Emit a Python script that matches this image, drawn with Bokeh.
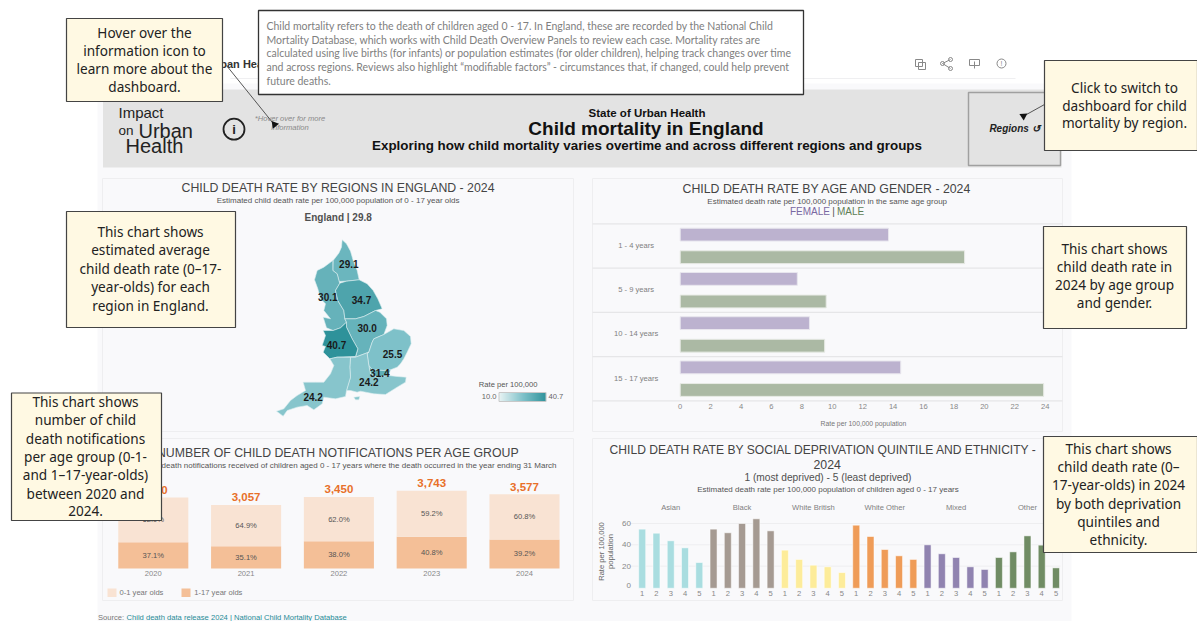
from bokeh.plotting import figure
from bokeh.models import Range1d, LinearAxis, FixedTicker, ColumnDataSource
from bokeh.core.properties import value
from bokeh.embed import file_html
from bokeh.resources import INLINE

# ---------- data ----------
age_groups = ["1 - 4 years", "5 - 9 years", "10 - 14 years", "15 - 17 years"]
female_rate = [13.7, 7.7, 8.5, 14.5]
male_rate = [18.7, 9.6, 9.5, 23.9]
age_ticks = [0, 2, 4, 6, 8, 10, 12, 14, 16, 18, 20, 22, 24]

ethnicities = ["Asian", "Black", "White British", "White Other", "Mixed", "Other"]
quintiles = ["1", "2", "3", "4", "5"]
asian = [54.7, 50.9, 43.8, 37.2, 23.4]
black = [54.7, 51.3, 60.0, 64.4, 53.1]
white_british = [35.0, 26.3, 20.9, 19.4, 14.0]
white_other = [58.4, 47.8, 35.6, 29.7, 26.3]
mixed = [40.0, 31.6, 28.1, 19.4, 16.9]
other = [28.1, 33.4, 48.4, 39.7, 18.4]
eth_values = [asian, black, white_british, white_other, mixed, other]
eth_colors = ["#a9dde0", "#a59a92", "#fdec9a", "#ef9c58", "#9083b0", "#708c64"]
dep_ticks = [0, 20, 40, 60]

years = [2020, 2021, 2022, 2023, 2024]
totals = [3420, 3057, 3450, 3743, 3577]
share_1_17 = [37.1, 35.1, 38.0, 40.8, 39.2]
share_0_1 = [62.9, 64.9, 62.0, 59.2, 60.8]

region_rates = [29.1, 30.1, 34.7, 30.0, 40.7, 25.5, 31.4, 24.2, 24.2, 24.2]
region_label_pts = [(325, 160), (262, 260), (363, 267), (380, 352), (288, 402),
                    (456, 430), (418, 488), (385, 515), None, (218, 558)]
ne = [(305,88),(318,100),(330,122),(338,150),(350,180),(356,208),(318,212),(296,213),(290,190),(277,180),(278,150),(295,128),(303,110)]
nw = [(277,150),(277,180),(290,190),(296,213),(298,218),(285,240),(292,270),(310,300),(313,325),(318,335),(300,352),(278,360),(258,352),(248,320),(270,325),(250,300),(255,280),(240,265),(232,235),(222,208),(230,180),(250,170)]
yh = [(298,218),(318,212),(356,208),(380,220),(398,240),(412,265),(425,295),(405,300),(370,318),(345,325),(313,325),(310,300),(292,270),(285,240)]
em = [(313,325),(345,325),(370,318),(405,300),(418,305),(438,325),(440,345),(430,372),(400,385),(395,395),(385,425),(345,440),(352,415),(335,385),(318,350),(318,335)]
wm = [(318,335),(318,350),(335,385),(352,415),(345,438),(290,440),(268,445),(248,425),(255,408),(245,405),(255,375),(248,360),(278,360),(300,352)]
ee = [(430,372),(460,355),(490,360),(510,378),(512,400),(500,425),(490,445),(480,460),(470,470),(450,478),(430,480),(395,478),(385,465),(380,430),(385,425),(395,395),(400,385)]
ldn = [(385,465),(395,478),(430,480),(450,478),(445,495),(410,500),(390,490)]
se = [(330,440),(345,440),(385,425),(380,430),(385,465),(390,490),(410,500),(445,495),(470,498),(497,500),(495,515),(470,530),(435,552),(400,550),(360,542),(350,545),(330,540),(318,540),(330,500),(328,470)]
iow = [(340,560),(358,558),(355,568),(345,568)]
sw = [(268,445),(290,440),(330,440),(328,470),(330,500),(318,540),(315,558),(285,565),(250,560),(245,580),(220,598),(200,585),(170,590),(140,600),(128,617),(108,602),(130,595),(150,570),(170,555),(195,540),(188,515),(225,515),(250,515),(270,490),(280,465)]
regions = [ne, nw, yh, em, wm, ee, ldn, se, iow, sw]

info_lines = [
    "Child mortality refers to the death of children aged 0 - 17. In England, these are recorded by the National Child",
    "Mortality Database, which works with Child Death Overview Panels to review each case. Mortality rates are",
    "calculated using live births (for infants) or population estimates (for older children), helping track changes over time",
    "and across regions. Reviews also highlight “modifiable factors” - circumstances that, if changed, could help prevent",
    "future deaths.",
]
callouts = [
    ((66, 222, 18, 101), 144, [33, 51, 69, 87], ["Hover over the", "information icon to", "learn more about the", "dashboard."]),
    ((1044, 1197, 60, 150), 1124, [88, 105.5, 123], ["Click to switch to", "dashboard for child", "mortality by region."]),
    ((66, 235, 211, 327), 150, [232, 250, 269, 287, 306], ["This chart shows", "estimated average", "child death rate (0–17-", "year-olds) for each", "region in England."]),
    ((11, 161, 392.5, 520), 85, [402, 420, 438.5, 457, 475, 493.5, 511.5], ["This chart shows", "number of child", "death notifications", "per age group (0-1-", "and 1–17-year-olds)", "between 2020 and", "2024."]),
    ((1043, 1186, 226, 328), 1114, [249, 267, 285, 303], ["This chart shows", "child death rate in", "2024 by age group", "and gender."]),
    ((1043, 1197, 436, 552), 1118, [449, 467, 485, 503.5, 522, 540], ["This chart shows", "child death rate (0–", "17-year-olds) in 2024", "by both deprivation", "quintiles and", "ethnicity."]),
]

# ---------- canvas ----------
W, H = 1197, 621
p = figure(width=W, height=H, output_backend="svg", toolbar_location=None,
           x_range=Range1d(0, W), y_range=Range1d(H, 0), min_border=0,
           margin=(0, 0, 0, 0), background_fill_color="white", border_fill_color="white")
p.grid.visible = False
p.axis.visible = False
p.outline_line_color = None

SANS = "Liberation Sans"


def T(x, y, s, size=9, color="#555555", font=SANS, style="normal", align="center",
      level="glyph", angle=0, **kw):
    return p.text([x], [y], text=[s], text_font=value(font), text_font_size=f"{size}px",
                  text_font_style=style, text_color=color, text_align=align,
                  text_baseline="middle", level=level, angle=angle, **kw)


def axis_range(name, v0, px0, v1, px1, horizontal):
    """Extra range whose values v0, v1 land on pixels px0, px1 of the canvas."""
    k = (v1 - v0) / (px1 - px0)
    if horizontal:
        p.extra_x_ranges[name] = Range1d(v0 - px0 * k, v0 + (W - px0) * k)
    else:
        p.extra_y_ranges[name] = Range1d(v0 + (H - px0) * k, v0 - px0 * k)


def quiet_axis(ax, size=7.6):
    ax.axis_line_color = None
    ax.major_tick_line_color = None
    ax.minor_tick_line_color = None
    ax.major_tick_out = 0
    ax.major_tick_in = 0
    ax.major_label_text_font = SANS
    ax.major_label_text_font_size = f"{size}px"
    ax.major_label_text_color = "#888888"
    ax.major_label_standoff = 0


def lerp(c1, c2, t):
    a = [int(c1[i:i+2], 16) for i in (1, 3, 5)]
    b = [int(c2[i:i+2], 16) for i in (1, 3, 5)]
    return "#%02x%02x%02x" % tuple(round(x + (y - x) * t) for x, y in zip(a, b))


def rate_color(r):
    t = (r - 10) / (40.7 - 10)
    if t < 0.5:
        return lerp("#e6f2f3", "#7fc1c9", t / 0.5)
    return lerp("#7fc1c9", "#2e929a", (t - 0.5) / 0.5)


# page chrome
p.quad(left=[97], right=[1071], top=[83], bottom=[621], fill_color="#f9f9fb", line_color=None)
p.segment([230], [78], [1015], [78], line_color="#efeff1", line_width=1)
T(276, 63, "Impact on Urban Health", 11, "#333333", style="bold", align="right")
p.quad(left=[102.5], right=[1061], top=[89], bottom=[167], fill_color="#e3e3e3", line_color=None)
p.quad(left=[968], right=[1060], top=[92], bottom=[165], fill_color="#e3e3e3", line_color="#a0a0a0", line_width=1.5)
T(1014, 128, "Regions ↺", 10, "#222222", style="bold italic")
T(646.5, 112, "State of Urban Health", 11.5, "#111111", style="bold")
T(645.5, 128, "Child mortality in England", 19, "#111111", style="bold")
T(646.5, 145, "Exploring how child mortality varies overtime and across different regions and groups", 13.4, "#111111", style="bold")
# logo
T(118, 112, "Impact", 15, "#222222", align="left")
T(118, 130, "on", 13.5, "#222222", align="left")
T(138, 130, "Urban", 20, "#222222", align="left")
T(125, 145, "Health", 20, "#222222", align="left")
p.scatter([233.5], [128.7], size=21, marker="circle", fill_color=None, line_color="#222222", line_width=1.8)
T(233.5, 128.7, "i", 13, "#222222", style="bold")
T(289.5, 117.5, "*Hover over for more", 7.6, "#8a8a8a", style="italic")
T(289.5, 126.5, "information", 7.6, "#8a8a8a", style="italic")
# toolbar icons
p.quad(left=[915, 918], right=[922, 925], top=[59, 62], bottom=[66, 69], fill_color=None, line_color="#888888")
p.scatter([942, 950, 950], [63, 59, 68], size=4, marker="circle", fill_color=None, line_color="#888888")
p.segment([942, 942], [63, 63], [950, 950], [59, 68], line_color="#888888")
p.quad(left=[969], right=[979], top=[59], bottom=[65], fill_color=None, line_color="#888888")
p.segment([974], [61], [974], [68], line_color="#888888")
p.scatter([1001], [63], size=9, marker="circle", fill_color=None, line_color="#888888")
T(1001, 63, "!", 7, "#888888")

# panels
for l, r, t, b in [(102, 573, 178, 431), (592, 1062, 178, 431), (102, 573, 438, 600), (592, 1062, 438, 600)]:
    p.quad(left=[l], right=[r], top=[t], bottom=[b], fill_color="#f9f9fb", line_color="#eeeef0")

# ---------- map ----------
T(337.6, 187.5, "CHILD DEATH RATE BY REGIONS IN ENGLAND - 2024", 12.3, "#444444")
T(337.6, 199.5, "Estimated child death rate per 100,000 population of 0 - 17 year olds", 8, "#555555")
T(337.7, 217, "England | 29.8", 10, "#505050", style="bold")
axis_range("map_x", 0, 240, 1020, 580, True)
axis_range("map_y", 0, 210, 660, 430, False)
map_src = ColumnDataSource(dict(
    xs=[[pt[0] for pt in r] for r in regions],
    ys=[[pt[1] for pt in r] for r in regions],
    c=[rate_color(v) for v in region_rates]))
p.patches("xs", "ys", source=map_src, fill_color="c", line_color="#dceef0", line_width=0.6,
          x_range_name="map_x", y_range_name="map_y")
for pt, v in zip(region_label_pts, region_rates):
    if pt:
        p.text([pt[0]], [pt[1]], text=[f"{v:.1f}"], x_range_name="map_x", y_range_name="map_y",
               text_font=value(SANS), text_font_size="10px", text_font_style="bold",
               text_color="#1a1a1a", text_align="center", text_baseline="middle")
# colour legend
T(507.7, 384, "Rate per 100,000", 7.6, "#555555")
T(496, 396, "10.0", 7.6, "#666666", align="right")
T(548, 396, "40.7", 7.6, "#666666", align="left")
axis_range("leg_x", 10, 498.5, 40.7, 545.5, True)
leg_v = [10 + 30.7 * i / 47 for i in range(47)]
p.quad(left=leg_v, right=[v + 30.7 / 47 + 0.05 for v in leg_v], top=[392] * 47, bottom=[401] * 47,
       fill_color=[rate_color(v) for v in leg_v], line_color=None, x_range_name="leg_x")
p.quad(left=[498.5], right=[545.5], top=[392], bottom=[401], fill_color=None, line_color="#c8c8c8")

# ---------- age & gender ----------
T(826.7, 188, "CHILD DEATH RATE BY AGE AND GENDER - 2024", 12.3, "#444444")
T(826.7, 200.5, "Estimated death rate per 100,000 population in the same age group", 8, "#555555")
T(833, 211, "|", 10, "#555555")
T(829.5, 211, "FEMALE", 10, "#7a68a2", align="right")
T(836.5, 211, "MALE", 10, "#5f7f56", align="left")
axis_range("age_x", 0, 679.7, 24, 1044.7, True)
axis_range("age_y", 0, 223.3, 4, 400.3, False)
for i in range(5):
    p.segment([592], [i], [1062], [i], line_color="#e6e6e8", line_width=1.2, y_range_name="age_y")
for i, g in enumerate(age_groups):
    p.text([635.7], [i + 0.49], text=[g], y_range_name="age_y", text_font=value(SANS),
           text_font_size="7.6px", text_color="#808080", text_align="center", text_baseline="middle")
p.hbar(y=[i + 0.245 for i in range(4)], left=0, right=female_rate, height=0.29,
       fill_color="#bcb2cf", line_color="#e8e6ee", x_range_name="age_x", y_range_name="age_y")
p.hbar(y=[i + 0.755 for i in range(4)], left=0, right=male_rate, height=0.29,
       fill_color="#abb9a4", line_color="#e8ebe6", x_range_name="age_x", y_range_name="age_y")
age_ax = LinearAxis(x_range_name="age_x", ticker=FixedTicker(ticks=age_ticks), fixed_location=403)
quiet_axis(age_ax)
p.add_layout(age_ax, "below")
T(863, 423, "Rate per 100,000 population", 6.8, "#777777")

# ---------- deprivation ----------
T(823, 449, "CHILD DEATH RATE BY SOCIAL DEPRIVATION QUINTILE AND ETHNICITY -", 12.1, "#444444")
T(826.7, 464.3, "2024", 12.3, "#444444")
T(827.5, 477.3, "1 (most deprived) - 5 (least deprived)", 10.2, "#505050")
T(827.5, 488.5, "Estimated death rate per 100,000 population of children aged 0 - 17 years", 8.0, "#555555")
axis_range("dep_x", 0, 641.7, 29, 1055.5, True)
axis_range("dep_y", 0, 587, 60, 523, False)
for t in dep_ticks[1:]:
    p.segment([630], [t], [1060], [t], line_color="#eeeef0", y_range_name="dep_y")
dep_xs, dep_vs, dep_cs = [], [], []
for gi, (vals, col) in enumerate(zip(eth_values, eth_colors)):
    for qi, v in enumerate(vals):
        dep_xs.append(gi * 5 + qi)
        dep_vs.append(v)
        dep_cs.append(col)
    p.text([gi * 5 + 2], [506.7], text=[ethnicities[gi]], x_range_name="dep_x",
           text_font=value(SANS), text_font_size="7.6px", text_color="#808080",
           text_align="center", text_baseline="middle")
p.vbar(x=dep_xs, bottom=-0.7, top=dep_vs, width=0.49, fill_color=dep_cs, line_color="#ffffff",
       line_alpha=0.5, x_range_name="dep_x", y_range_name="dep_y")
dep_ax = LinearAxis(x_range_name="dep_x", ticker=FixedTicker(ticks=dep_xs),
                    major_label_overrides={x: quintiles[x % 5] for x in dep_xs}, fixed_location=590)
quiet_axis(dep_ax)
p.add_layout(dep_ax, "below")
for t in dep_ticks:
    p.text([630.5], [t], text=[str(t)], y_range_name="dep_y", text_font=value(SANS),
           text_font_size="8px", text_color="#888888", text_align="right",
           text_baseline="middle" if t else "bottom")
T(601, 551, "Rate per 100,000", 7.6, "#666666", angle=1.5708)
T(610, 551, "population", 7.6, "#666666", angle=1.5708)

# ---------- notifications ----------
T(337.6, 452, "NUMBER OF CHILD DEATH NOTIFICATIONS PER AGE GROUP", 12.3, "#444444")
T(556, 465, "Number of child death notifications received of children aged 0 - 17 years where the death occurred in the year ending 31 March", 8, "#555555", align="right")
axis_range("not_x", 2020, 152.8, 2024, 524, True)
axis_range("not_y", 0, 568, 1000, 547.25, False)
lower = [t * s / 100 for t, s in zip(totals, share_1_17)]
p.vbar(x=years, bottom=0, top=lower, width=0.755, fill_color="#f4bf97", line_color=None,
       x_range_name="not_x", y_range_name="not_y")
p.vbar(x=years, bottom=lower, top=totals, width=0.755, fill_color="#f9e3d3", line_color=None,
       x_range_name="not_x", y_range_name="not_y")
not_ax = LinearAxis(x_range_name="not_x", ticker=FixedTicker(ticks=years),
                    major_label_overrides={y: str(y) for y in years}, fixed_location=570)
quiet_axis(not_ax)
p.add_layout(not_ax, "below")
for y, t, l, a, b in zip(years, totals, lower, share_1_17, share_0_1):
    kw = dict(x_range_name="not_x", y_range_name="not_y", text_font=value(SANS), text_align="center")
    p.text([y], [l / 2], text=[f"{a:.1f}%"], text_font_size="7.6px", text_color="#555555", text_baseline="middle", **kw)
    p.text([y], [(l + t) / 2], text=[f"{b:.1f}%"], text_font_size="7.6px", text_color="#555555", text_baseline="middle", **kw)
    p.text([y], [t + 370], text=[f"{t:,}"], text_font_size="11.5px", text_font_style="bold", text_color="#e8702a", text_baseline="middle", **kw)
p.quad(left=[107, 181], right=[116, 190], top=[588, 588], bottom=[596.5, 596.5],
       fill_color=["#f9e3d3", "#f4bf97"], line_color=None)
T(119, 592, "0-1 year olds", 7.6, "#777777", align="left")
T(193.8, 592, "1-17 year olds", 7.6, "#777777", align="left")

# source
T(97.5, 617, "Source:", 7.6, "#777777", align="left")
T(126, 617, "Child death data release 2024 | National Child Mortality Database", 7.6, "#1f8b97", align="left")

# ---------- overlays ----------
p.quad(left=[258], right=[803], top=[10], bottom=[94], fill_color="white", line_color="#333333",
       line_width=1.3, level="overlay")
for i, line in enumerate(info_lines):
    T(266, 25.7 + 13.6 * i, line, 10.5, "#808080", font="Lato", align="left", level="overlay")

p.segment([226, 1044], [65, 104], [272, 1026], [122, 114], line_color="#444444", line_width=0.9, level="overlay")
p.scatter([274, 1023], [124, 115.5], size=8, marker="triangle", fill_color="#111111", line_color=None,
          angle=[0.68, -1.0], level="overlay")
for (l, r, t, b), cx, ys, lines in callouts:
    p.quad(left=[l], right=[r], top=[t], bottom=[b], fill_color="#fff9e3", line_color="#444444",
           line_width=1.2, level="overlay")
    for y, s in zip(ys, lines):
        T(cx, y - 1, s, 13.6, "#222222", font="Noto Sans", level="overlay")

open("out.html", "w").write(file_html(p, INLINE))
